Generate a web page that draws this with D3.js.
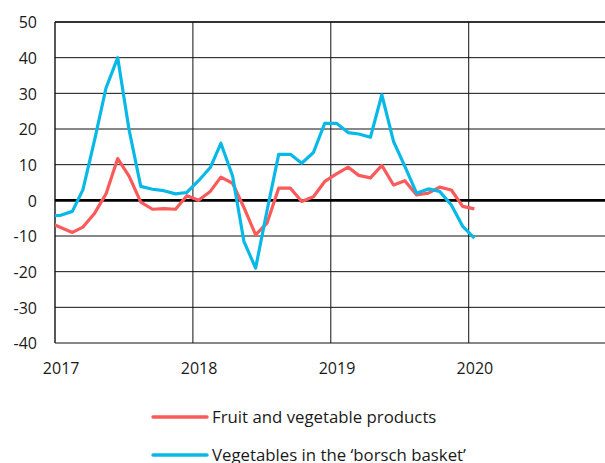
<!DOCTYPE html>
<html>
<head>
<meta charset="utf-8">
<script src="https://cdn.jsdelivr.net/npm/d3@7"></script>
<style>
  html, body { margin: 0; padding: 0; background: #fff; }
  svg { display: block; font-family: "Open Sans", sans-serif; }
</style>
</head>
<body>
<div id="chart"></div>
<script>
// months Dec 2016 .. Jan 2020 (first one is clipped by the plot edge)
const months = d3.timeMonth.range(new Date(2016, 11, 1), new Date(2020, 1, 1));
const years = [2017, 2018, 2019, 2020];
const yTicks = [-40, -30, -20, -10, 0, 10, 20, 30, 40, 50];

const fruitVeg = [
  -6.2,
  -7.6, -9.0, -7.5, -3.6, 1.8, 11.7, 6.8, -0.5, -2.5, -2.3, -2.5, 1.3,
  0.0, 2.5, 6.5, 4.8, -2.0, -9.7, -6.4, 3.4, 3.4, -0.3, 1.0, 5.3,
  7.4, 9.3, 7.0, 6.3, 9.8, 4.3, 5.5, 1.5, 2.0, 3.7, 2.9, -1.7,
  -2.4
];
const borsch = [
  -4.3,
  -4.2, -3.1, 3.0, 17.0, 31.5, 40.0, 19.8, 3.9, 3.1, 2.7, 1.8, 2.2,
  5.5, 9.2, 16.0, 6.8, -11.5, -19.0, -3.0, 12.9, 12.9, 10.4, 13.4, 21.6,
  21.6, 19.0, 18.6, 17.7, 29.6, 16.5, 9.5, 2.0, 3.2, 2.5, -1.3, -7.3,
  -10.6
];

const series = [
  { name: 'Fruit and vegetable products', values: fruitVeg, color: '#fa5a5a' },
  { name: 'Vegetables in the \u2018borsch basket\u2019', values: borsch, color: '#08b9e8' }
];

const W = 605, H = 463;
const mLeft = 55, mRight = 607, mTop = 22, mBottom = 343;

const svg = d3.select('#chart').append('svg')
  .attr('width', W)
  .attr('height', H);

const x = d3.scaleTime()
  .domain([new Date(2017, 0, 1), new Date(2021, 0, 1)])
  .range([mLeft, mRight]);
const y = d3.scaleLinear()
  .domain([-40, 50])
  .range([mBottom, mTop]);

const mid = d => d3.timeDay.offset(d, 15);

// horizontal grid
svg.append('g')
  .selectAll('line')
  .data(yTicks)
  .join('line')
  .attr('x1', mLeft).attr('x2', W)
  .attr('y1', d => y(d)).attr('y2', d => y(d))
  .attr('stroke', d => d === 50 ? '#333' : '#111')
  .attr('stroke-width', d => d === 50 ? 2.2 : 1);

// vertical grid at years
svg.append('g')
  .selectAll('line')
  .data(years)
  .join('line')
  .attr('x1', d => x(new Date(d, 0, 1))).attr('x2', d => x(new Date(d, 0, 1)))
  .attr('y1', mTop).attr('y2', mBottom)
  .attr('stroke', '#111')
  .attr('stroke-width', d => d === 2017 ? 1.4 : 1);

// zero line
svg.append('line')
  .attr('x1', mLeft).attr('x2', W)
  .attr('y1', y(0)).attr('y2', y(0))
  .attr('stroke', '#000')
  .attr('stroke-width', 2.6);

// y axis labels (plain hyphen like the original)
const yAxis = d3.axisLeft(y).tickValues(yTicks).tickFormat(d => String(d)).tickSize(0).tickPadding(0);
svg.append('g')
  .attr('transform', 'translate(37,0)')
  .call(yAxis)
  .call(g => g.select('.domain').remove())
  .selectAll('text')
  .attr('font-size', 16)
  .attr('fill', '#1a1a1a')
  .attr('font-family', '"Open Sans", sans-serif')
  .attr('dy', '0.36em');

// x axis labels (centred on January)
const xAxis = d3.axisBottom(x)
  .tickValues(years.map(d => mid(new Date(d, 0, 1))))
  .tickFormat(d3.timeFormat('%Y'))
  .tickSize(0)
  .tickPadding(0);
svg.append('g')
  .attr('transform', 'translate(0,' + 362 + ')')
  .call(xAxis)
  .call(g => g.select('.domain').remove())
  .selectAll('text')
  .attr('font-size', 16)
  .attr('fill', '#1a1a1a')
  .attr('font-family', '"Open Sans", sans-serif')
  .attr('dy', '0.72em');

// lines
svg.append('clipPath').attr('id', 'plot')
  .append('rect')
  .attr('x', mLeft).attr('y', 0)
  .attr('width', W - mLeft).attr('height', H);

const line = d3.line()
  .x((d, i) => x(mid(months[i])))
  .y(d => y(d));

svg.append('g')
  .attr('clip-path', 'url(#plot)')
  .selectAll('path')
  .data(series)
  .join('path')
  .attr('d', d => line(d.values))
  .attr('fill', 'none')
  .attr('stroke', d => d.color)
  .attr('stroke-width', 3.2)
  .attr('stroke-linejoin', 'round');

// legend
const legend = svg.append('g')
  .selectAll('g')
  .data(series)
  .join('g')
  .attr('transform', (d, i) => 'translate(153,' + (417 + i * 38) + ')');
legend.append('line')
  .attr('x1', 0).attr('x2', 54)
  .attr('stroke', d => d.color)
  .attr('stroke-width', 3.4)
  .attr('stroke-linecap', 'round');
legend.append('text')
  .attr('x', 59)
  .attr('dy', '0.36em')
  .attr('font-size', 16.8)
  .attr('fill', '#1a1a1a')
  .text(d => d.name);
</script>
</body>
</html>
